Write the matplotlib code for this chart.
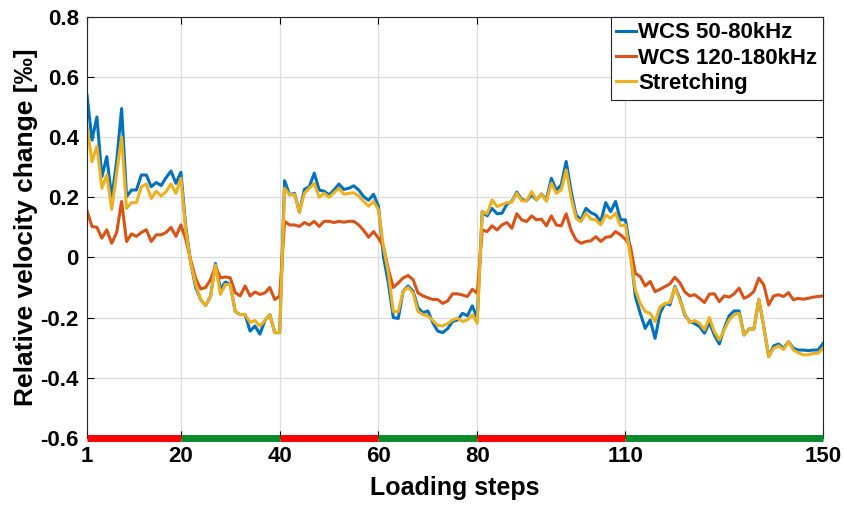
import numpy as np
import matplotlib
matplotlib.use('Agg')
import matplotlib.pyplot as plt

steps = np.arange(1, 151)

wcs_low = [
    0.539, 0.39, 0.467, 0.268, 0.335, 0.197, 0.32, 0.495, 0.202, 0.224,
    0.224, 0.274, 0.274, 0.235, 0.249, 0.239, 0.265, 0.287, 0.246, 0.283,
    0.10, -0.02, -0.10, -0.14, -0.16, -0.13, -0.02, -0.106, -0.082, -0.09,
    -0.18, -0.19, -0.19, -0.245, -0.228, -0.255, -0.21, -0.19, -0.25, -0.25,
    0.255, 0.208, 0.213, 0.15, 0.226, 0.235, 0.28, 0.224, 0.22, 0.208,
    0.224, 0.244, 0.226, 0.23, 0.238, 0.224, 0.202, 0.19, 0.21, 0.17,
    0.003, -0.085, -0.2, -0.203, -0.112, -0.095, -0.112, -0.167, -0.184, -0.178,
    -0.217, -0.245, -0.25, -0.237, -0.213, -0.208, -0.186, -0.194, -0.161, -0.202,
    0.152, 0.138, 0.163, 0.145, 0.147, 0.177, 0.186, 0.217, 0.193, 0.188,
    0.208, 0.191, 0.211, 0.191, 0.263, 0.224, 0.241, 0.319, 0.22, 0.141,
    0.125, 0.163, 0.149, 0.141, 0.119, 0.182, 0.152, 0.186, 0.125, 0.125,
    0.024, -0.13, -0.186, -0.236, -0.208, -0.269, -0.186, -0.153, -0.158, -0.097,
    -0.136, -0.191, -0.213, -0.22, -0.23, -0.252, -0.217, -0.258, -0.288, -0.236,
    -0.194, -0.178, -0.178, -0.258, -0.238, -0.238, -0.139, -0.23, -0.33, -0.294,
    -0.288, -0.302, -0.28, -0.302, -0.308, -0.308, -0.31, -0.308, -0.308, -0.286,
]

wcs_high = [
    0.155, 0.103, 0.1, 0.064, 0.092, 0.047, 0.083, 0.186, 0.053, 0.078,
    0.07, 0.083, 0.092, 0.053, 0.075, 0.075, 0.083, 0.1, 0.07, 0.108,
    0.06, -0.01, -0.07, -0.105, -0.1, -0.074, -0.03, -0.068, -0.065, -0.068,
    -0.117, -0.128, -0.095, -0.128, -0.115, -0.123, -0.118, -0.1, -0.14, -0.128,
    0.12, 0.108, 0.108, 0.103, 0.116, 0.108, 0.12, 0.103, 0.12, 0.12,
    0.116, 0.12, 0.117, 0.12, 0.12, 0.108, 0.09, 0.067, 0.086, 0.064,
    0.036, -0.04, -0.1, -0.085, -0.068, -0.06, -0.074, -0.118, -0.128, -0.134,
    -0.14, -0.14, -0.153, -0.145, -0.121, -0.121, -0.125, -0.13, -0.106, -0.119,
    0.091, 0.086, 0.105, 0.091, 0.108, 0.116, 0.097, 0.145, 0.125, 0.119,
    0.138, 0.125, 0.127, 0.105, 0.138, 0.108, 0.105, 0.145, 0.09, 0.058,
    0.047, 0.053, 0.055, 0.069, 0.053, 0.067, 0.069, 0.086, 0.075, 0.06,
    0.038, -0.053, -0.064, -0.095, -0.08, -0.114, -0.106, -0.097, -0.088, -0.066,
    -0.084, -0.114, -0.128, -0.124, -0.136, -0.15, -0.122, -0.121, -0.147, -0.128,
    -0.132, -0.121, -0.102, -0.136, -0.128, -0.113, -0.069, -0.091, -0.158, -0.128,
    -0.124, -0.13, -0.117, -0.141, -0.136, -0.139, -0.136, -0.132, -0.13, -0.128,
]

stretching = [
    0.434, 0.318, 0.37, 0.23, 0.274, 0.16, 0.28, 0.401, 0.163, 0.182,
    0.182, 0.235, 0.244, 0.196, 0.22, 0.204, 0.219, 0.244, 0.213, 0.263,
    0.09, -0.02, -0.09, -0.14, -0.16, -0.13, -0.025, -0.123, -0.09, -0.09,
    -0.18, -0.19, -0.19, -0.216, -0.21, -0.228, -0.21, -0.19, -0.25, -0.25,
    0.23, 0.208, 0.21, 0.15, 0.213, 0.23, 0.246, 0.2, 0.213, 0.2,
    0.215, 0.23, 0.21, 0.213, 0.215, 0.204, 0.186, 0.17, 0.186, 0.158,
    0.036, -0.052, -0.18, -0.18, -0.112, -0.1, -0.118, -0.18, -0.19, -0.195,
    -0.21, -0.226, -0.228, -0.22, -0.208, -0.202, -0.213, -0.208, -0.191, -0.219,
    0.152, 0.145, 0.191, 0.169, 0.175, 0.182, 0.183, 0.213, 0.188, 0.188,
    0.219, 0.191, 0.211, 0.186, 0.247, 0.213, 0.224, 0.291, 0.2, 0.13,
    0.119, 0.147, 0.127, 0.125, 0.108, 0.141, 0.13, 0.147, 0.105, 0.108,
    0.002, -0.108, -0.153, -0.18, -0.186, -0.213, -0.164, -0.153, -0.15, -0.1,
    -0.142, -0.186, -0.217, -0.21, -0.219, -0.241, -0.2, -0.247, -0.274, -0.241,
    -0.208, -0.191, -0.186, -0.258, -0.238, -0.238, -0.139, -0.23, -0.33, -0.302,
    -0.294, -0.306, -0.28, -0.308, -0.317, -0.324, -0.324, -0.319, -0.319, -0.302,
]

phase_bounds = [1, 20, 40, 60, 80, 110, 150]
phase_colors = ['#ff0000', '#0a8a2a', '#ff0000', '#0a8a2a', '#ff0000', '#0a8a2a']

xticks = [1, 20, 40, 60, 80, 110, 150]
yticks = [-0.6, -0.4, -0.2, 0, 0.2, 0.4, 0.6, 0.8]
ytick_labels = ['-0.6', '-0.4', '-0.2', '0', '0.2', '0.4', '0.6', '0.8']

plt.rcParams['font.family'] = ['Liberation Sans', 'DejaVu Sans']

fig = plt.figure(figsize=(8.45, 5.08), dpi=100)
ax = fig.add_axes([0.103, 0.138, 0.871, 0.829])

ax.plot(steps, wcs_low, color='#0072BD', lw=2.2, label='WCS 50-80kHz')
ax.plot(steps, wcs_high, color='#D95319', lw=2.2, label='WCS 120-180kHz')
ax.plot(steps, stretching, color='#EDB120', lw=2.2, label='Stretching')

# loading / unloading phases along the bottom edge
for i in range(len(phase_colors)):
    ax.plot([phase_bounds[i], phase_bounds[i + 1]], [-0.6, -0.6],
            color=phase_colors[i], lw=5, solid_capstyle='butt', clip_on=False, zorder=5)

ax.set_xlim(1, 150)
ax.set_ylim(-0.6, 0.8)
ax.set_xticks(xticks)
ax.set_xticklabels([str(t) for t in xticks], fontweight='bold', fontsize=16)
ax.set_yticks(yticks)
ax.set_yticklabels(ytick_labels, fontweight='bold', fontsize=16)
ax.tick_params(direction='in', top=True, right=True, length=5, width=0.8, pad=6)
ax.grid(True, color='#dcdcdc', lw=0.9)
ax.set_axisbelow(True)
for sp in ax.spines.values():
    sp.set_color('#262626')
    sp.set_linewidth(0.8)

ax.set_xlabel('Loading steps', fontweight='bold', fontsize=18, labelpad=6)
ax.set_ylabel('Relative velocity change [‰]', fontweight='bold', fontsize=19, labelpad=2)

leg = ax.legend(loc='upper right', borderaxespad=0, fancybox=False, framealpha=1,
                handlelength=0.9, handletextpad=0.1, borderpad=0.25, labelspacing=0.2,
                prop={'weight': 'bold', 'size': 16})
leg.get_frame().set_edgecolor('#262626')
leg.get_frame().set_linewidth(0.8)

fig.savefig('out.png', dpi=100)
